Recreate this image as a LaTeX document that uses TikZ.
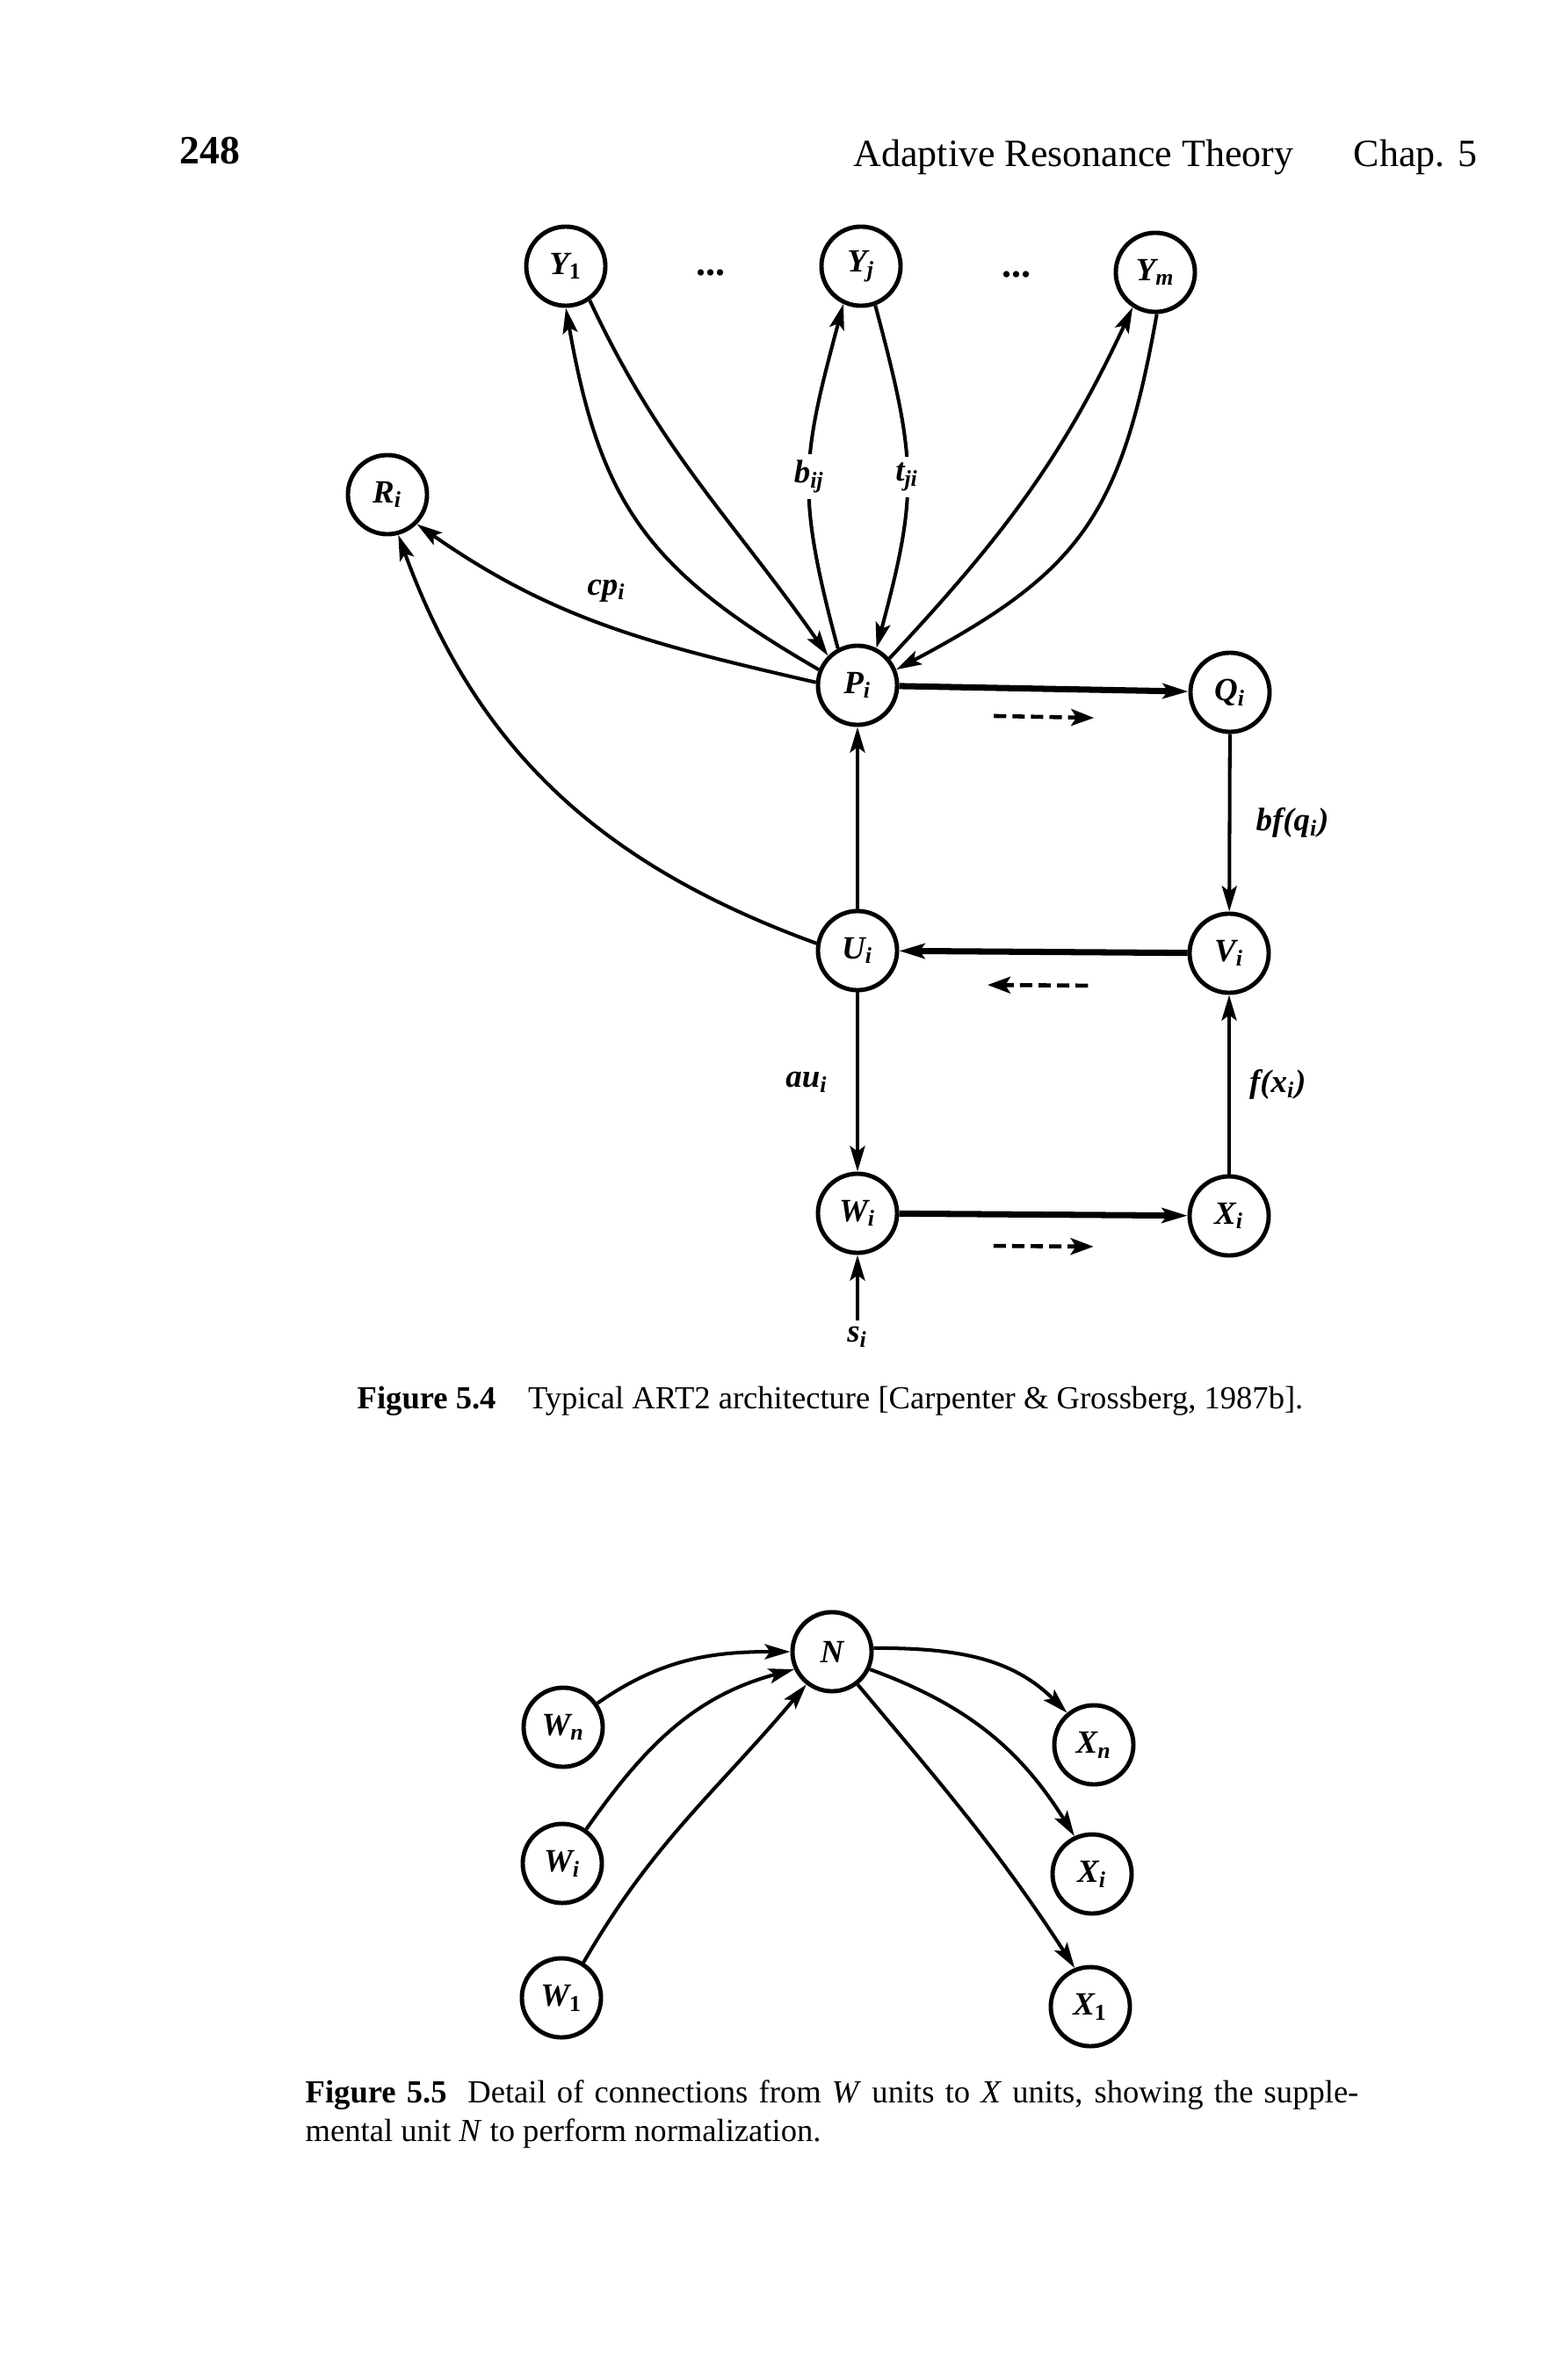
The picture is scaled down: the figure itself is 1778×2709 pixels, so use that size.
\documentclass[tikz,border=0pt]{standalone}
\usepackage{fontspec}
\setmainfont{Liberation Serif}
\usetikzlibrary{arrows.meta,calc}

\begin{document}
\begin{tikzpicture}[x=0.01cm,y=0.01cm,
  neuron/.style={circle,draw,line width=1.4pt,minimum size=0.9cm,inner sep=0pt,
    font=\fontsize{10.5}{12}\selectfont\bfseries\itshape},
  lbl/.style={font=\fontsize{10.5}{12}\selectfont\bfseries\itshape,inner sep=2pt},
  conn/.style={line width=1.15pt,-{Stealth[length=2.9mm,width=1.7mm,inset=0.6mm]}},
  heavy/.style={conn,line width=2pt},
  dashflow/.style={line width=1.3pt,dash pattern=on 4pt off 2pt,-{Stealth[length=2.6mm,width=1.9mm,inset=0.6mm]}},
  txt/.style={font=\fontsize{10.4}{12.4}\selectfont,inner sep=0pt}]
\useasboundingbox[fill=white] (0,0) rectangle (1778,-2709);

% running head
\node[anchor=base west,inner sep=0pt,font=\fontsize{13}{15}\selectfont\bfseries] (pg) at (204,-187) {248};
\node[anchor=base west,inner sep=0pt,font=\fontsize{12.5}{15}\selectfont] (head) at (971,-190) {Adaptive Resonance Theory};
\node[anchor=base west,inner sep=0pt,font=\fontsize{12.5}{15}\selectfont] (chap) at (1540,-190) {Chap. 5};

% Figure 5.4
\node[neuron] (Y1) at (644,-303) {Y\textsubscript{\upshape 1}};
\node[neuron] (Yj) at (980,-303) {Y\textsubscript{j}};
\node[neuron] (Ym) at (1315,-310) {Y\textsubscript{m}};
\node[lbl,font=\fontsize{12.5}{14}\selectfont\bfseries] (dotsA) at (809,-311) {...};
\node[lbl,font=\fontsize{12.5}{14}\selectfont\bfseries] (dotsB) at (1157,-313) {...};
\node[neuron] (R) at (441,-563) {R\textsubscript{i}};
\node[neuron] (P) at (976,-780) {P\textsubscript{i}};
\node[neuron] (Q) at (1400,-788) {Q\textsubscript{i}};
\node[neuron] (U) at (976,-1082) {U\textsubscript{i}};
\node[neuron] (V) at (1399,-1085) {V\textsubscript{i}};
\node[neuron] (W) at (976,-1381) {W\textsubscript{i}};
\node[neuron] (X) at (1399,-1384) {X\textsubscript{i}};
\node[lbl] (s) at (976,-1522) {s\textsubscript{i}};

\draw[conn] (P.158) to[out=150,in=-80,looseness=1.15] (Y1.270);
\draw[conn] (Y1.-55) to[out=-65,in=125] (P.135);
\draw[conn] (P.118) to[out=105,in=-105,looseness=1.2] node[lbl,fill=white] {b\textsubscript{ij}} (Yj.245);
\draw[conn] (Yj.-70) to[out=-75,in=75,looseness=1.2] node[lbl,fill=white] {t\textsubscript{ji}} (P.63);
\draw[conn] (P.40) to[out=47,in=245] (Ym.237);
\draw[conn] (Ym.-88) to[out=-100,in=28,looseness=1.2] (P.22);
\draw[conn] (P.176) to[out=167,in=-35] node[lbl,above=5pt] {cp\textsubscript{i}} (R.-45);
\draw[conn] (U.170) to[out=160,in=-70] (R.-75);

\draw[heavy] (P) -- (Q);
\draw[conn] (Q) -- node[lbl,right=6pt] {bf(q\textsubscript{i})} (V);
\draw[heavy] (V) -- (U);
\draw[conn] (U) -- (P);
\draw[conn] (U) -- node[lbl,left=7pt] {au\textsubscript{i}} (W);
\draw[conn] (X) -- node[lbl,right=4pt] {f(x\textsubscript{i})} (V);
\draw[heavy] (W) -- (X);
\draw[conn] (s) -- (W);

\coordinate (pqA) at ($(P)!.366!(Q)+(0,-32)$);
\coordinate (pqB) at ($(P)!.635!(Q)+(0,-32)$);
\coordinate (vuA) at ($(U)!.62!(V)+(0,-38)$);
\coordinate (vuB) at ($(U)!.35!(V)+(0,-38)$);
\coordinate (wxA) at ($(W)!.366!(X)+(0,-36)$);
\coordinate (wxB) at ($(W)!.635!(X)+(0,-36)$);
\draw[dashflow] (pqA) -- (pqB);
\draw[dashflow] (vuA) -- (vuB);
\draw[dashflow] (wxA) -- (wxB);

\node[txt,anchor=base west] (capA) at (406,-1603) {\textbf{Figure 5.4}\quad Typical ART2 architecture [Carpenter \& Grossberg, 1987b].};

% Figure 5.5
\node[neuron] (Nn) at (947,-1880) {N};
\node[neuron] (Wn) at (641,-1966) {W\textsubscript{n}};
\node[neuron] (Wi) at (640,-2121) {W\textsubscript{i}};
\node[neuron] (Wone) at (639,-2274) {W\textsubscript{\upshape 1}};
\node[neuron] (Xn) at (1245,-1986) {X\textsubscript{n}};
\node[neuron] (Xi) at (1243,-2133) {X\textsubscript{i}};
\node[neuron] (Xone) at (1241,-2284) {X\textsubscript{\upshape 1}};

\draw[conn] (Wn.35) to[out=35,in=180] (Nn.180);
\draw[conn] (Wi.55) to[out=55,in=195] (Nn.205);
\draw[conn] (Wone.58) to[out=60,in=-130] (Nn.232);
\draw[conn] (Nn.5) to[out=0,in=135] (Xn.130);
\draw[conn] (Nn.-25) to[out=-20,in=122] (Xi.115);
\draw[conn] (Nn.-52) to[out=-50,in=123] (Xone.112);

\node[txt,anchor=north west,text width=11.98cm,align=justify] (capB) at (347,-2367)
  {\textbf{Figure 5.5}\hspace{0.65em}Detail of connections from \textit{W} units to \textit{X} units, showing the supple-\linebreak mental unit \textit{N} to perform normalization.};
\end{tikzpicture}
\end{document}
